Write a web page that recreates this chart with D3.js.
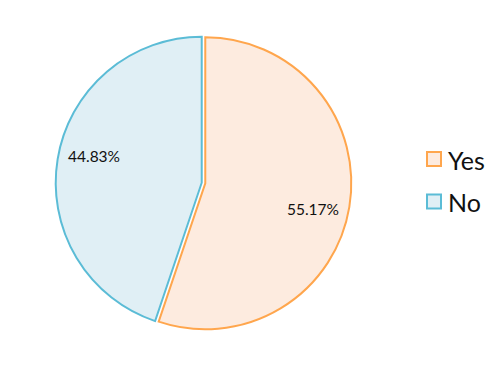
<!DOCTYPE html>
<html>
<head>
<meta charset="utf-8">
<script src="https://cdn.jsdelivr.net/npm/d3@7"></script>
<style>
  body { margin: 0; background: #fff; }
  svg { display: block; font-family: Lato, "Open Sans", sans-serif; }
</style>
</head>
<body>
<div id="chart"></div>
<script>
const categories = ["Yes", "No"];
const values = [55.17, 44.83];
const fills = ["#fdebdf", "#e0eff5"];
const strokes = ["#ffa64d", "#5bbcd6"];

const width = 498, height = 368;
const cx = 203.5, cy = 183, radius = 146;

const svg = d3.select("#chart").append("svg")
    .attr("width", width)
    .attr("height", height);

const pie = d3.pie().sort(null).value(d => d)(values);
const arc = d3.arc().innerRadius(0).outerRadius(radius);
const labelArc = d3.arc().innerRadius(radius * 0.76).outerRadius(radius * 0.76);

const g = svg.append("g").attr("transform", `translate(${cx},${cy})`);

// slight explode of each slice
const offset = 1.8;
const slice = g.selectAll("g.slice")
    .data(pie)
    .join("g")
    .attr("class", "slice")
    .attr("transform", d => {
        const a = (d.startAngle + d.endAngle) / 2;
        return `translate(${Math.sin(a) * offset},${-Math.cos(a) * offset})`;
    });

slice.append("path")
    .attr("d", arc)
    .attr("fill", (d, i) => fills[i])
    .attr("stroke", (d, i) => strokes[i])
    .attr("stroke-width", 2)
    .attr("stroke-linejoin", "miter");

slice.append("text")
    .attr("transform", d => {
        const shift = 0.08;
        const [x, y] = labelArc.centroid({ startAngle: d.startAngle + shift, endAngle: d.endAngle + shift });
        return `translate(${x},${y})`;
    })
    .attr("text-anchor", "middle")
    .attr("dy", "0.35em")
    .style("font-size", "15.5px")
    .attr("fill", "#111")
    .text(d => d3.format(".2f")(d.data) + "%");

// legend
const legend = svg.append("g").attr("transform", "translate(426,151)");
const item = legend.selectAll("g")
    .data(categories)
    .join("g")
    .attr("transform", (d, i) => `translate(0,${i * 42.5})`);

item.append("rect")
    .attr("x", 1).attr("y", 1)
    .attr("width", 14).attr("height", 14)
    .attr("fill", (d, i) => fills[i])
    .attr("stroke", (d, i) => strokes[i])
    .attr("stroke-width", 2);

item.append("text")
    .attr("x", 22)
    .attr("y", 18.5)
    .style("font-size", "25px")
    .attr("fill", "#111")
    .text(d => d);
</script>
</body>
</html>
